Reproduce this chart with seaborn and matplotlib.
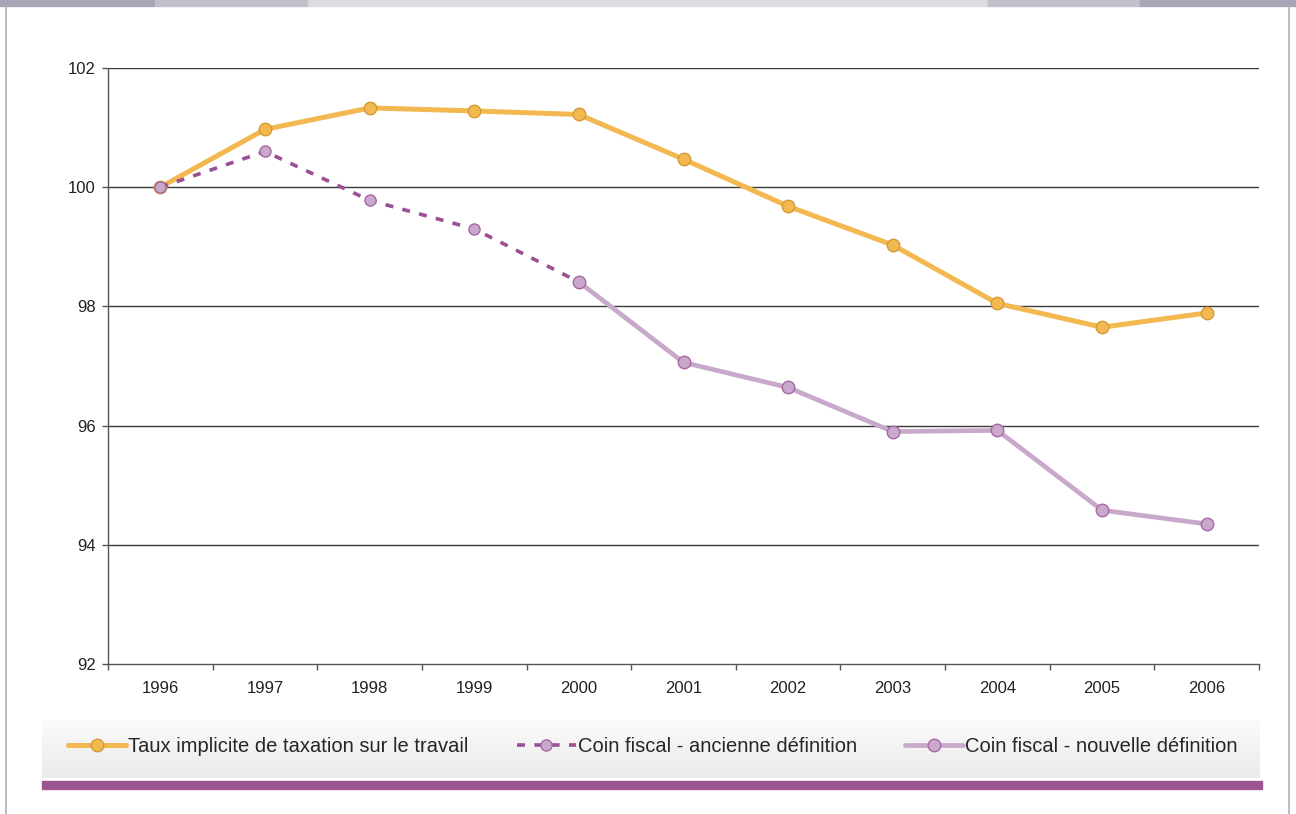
import matplotlib
matplotlib.use("Agg")
import matplotlib.pyplot as plt
import numpy as np
import seaborn as sns
from matplotlib.patches import Rectangle
from matplotlib.colors import LinearSegmentedColormap

years = [1996, 1997, 1998, 1999, 2000, 2001, 2002, 2003, 2004, 2005, 2006]
taux = [100.0, 100.97, 101.33, 101.28, 101.22, 100.47, 99.68, 99.03, 98.05, 97.65, 97.89]
anc_years = [1996, 1997, 1998, 1999, 2000]
ancienne = [100.0, 100.60, 99.78, 99.30, 98.41]
nouv_years = [2000, 2001, 2002, 2003, 2004, 2005, 2006]
nouvelle = [98.41, 97.06, 96.64, 95.90, 95.92, 94.58, 94.35]
yticks = [92, 94, 96, 98, 100, 102]
labels = ["Taux implicite de taxation sur le travail",
          "Coin fiscal - ancienne définition",
          "Coin fiscal - nouvelle définition"]

sns.set_theme(style="white")
plt.rcParams['font.family'] = ['Liberation Sans', 'DejaVu Sans']

W, H = 1296, 814
fig = plt.figure(figsize=(W / 100, H / 100), dpi=100)
fig.patch.set_facecolor("white")

def fx(px):
    return px / W

def fy(py):
    return 1 - py / H

# header band
for x0, x1, c in [(0, 155, "#A9A5B6"), (155, 308, "#C3C0CB"), (308, 988, "#DDDBE1"),
                  (988, 1140, "#C3C0CB"), (1140, 1296, "#A9A5B6")]:
    fig.patches.append(Rectangle((fx(x0), fy(6)), fx(x1 - x0), 6 / H,
                                 transform=fig.transFigure, color=c, zorder=0))
# side borders
for x in (6, 1289):
    fig.add_artist(plt.Line2D([fx(x), fx(x)], [0, fy(6)], transform=fig.transFigure,
                              color="#B0B0B8", lw=1.2))

# legend background gradient
bg = fig.add_axes([fx(42), fy(778), fx(1260 - 42), (778 - 720) / H])
grad = np.linspace(0, 1, 100).reshape(-1, 1)
cmap = LinearSegmentedColormap.from_list("g", ["#FBFBFB", "#EAEAEA"])
bg.imshow(grad, aspect="auto", cmap=cmap, extent=[0, 1, 0, 1], origin="upper")
bg.set_axis_off()

# purple bar
fig.patches.append(Rectangle((fx(42), fy(789)), fx(1262 - 42), 8 / H,
                             transform=fig.transFigure, color="#9B5592", zorder=1))

ax = fig.add_axes([fx(108), fy(664), fx(1259 - 108), (664 - 68) / H])
ax.set_facecolor("none")

orange = "#F3B84F"
orange_e = "#D49A35"
purple = "#9B4F96"
lilac = "#C8A8CB"
lilac_e = "#A868A3"

sns.lineplot(x=years, y=taux, ax=ax, color=orange, lw=3.6, marker="o", markersize=9,
             markerfacecolor=orange, markeredgecolor=orange_e, markeredgewidth=1.0,
             label=labels[0], zorder=3)
sns.lineplot(x=anc_years, y=ancienne, ax=ax, color=purple, lw=2.6, linestyle=(0, (2.2, 2.6)),
             marker="o", markersize=8, markerfacecolor=lilac, markeredgecolor=lilac_e,
             markeredgewidth=1.0, label=labels[1], zorder=4)
sns.lineplot(x=nouv_years, y=nouvelle, ax=ax, color=lilac, lw=3.4, marker="o", markersize=9,
             markerfacecolor=lilac, markeredgecolor=lilac_e, markeredgewidth=1.0,
             label=labels[2], zorder=5)

ax.set_xlim(1995.5, 2006.5)
ax.set_ylim(92, 102)
ax.set_yticks(yticks)
ax.set_yticklabels([str(v) for v in yticks], fontsize=12, color="#222222")
ax.set_xticks([y - 0.5 for y in years] + [2006.5])
ax.set_xticklabels([])
ax.set_xticks(years, minor=True)
ax.set_xticklabels([str(y) for y in years], minor=True, fontsize=12, color="#222222")
ax.tick_params(axis="x", which="major", direction="out", length=4.5, width=1, color="#555555", bottom=True)
ax.tick_params(axis="x", which="minor", length=0, pad=12)
ax.tick_params(axis="y", direction="out", length=4, width=1, color="#555555", left=True, pad=5)
ax.set_xlabel("")
ax.set_ylabel("")
ax.grid(False)
for v in yticks[1:]:
    ax.axhline(v, color="#3A3A3A", lw=1.0, zorder=1)
for s in ("top", "right"):
    ax.spines[s].set_visible(False)
ax.spines["left"].set_color("#555555")
ax.spines["bottom"].set_color("#555555")
ax.spines["left"].set_linewidth(1)
ax.spines["bottom"].set_linewidth(1)

handles, labs = ax.get_legend_handles_labels()
ax.get_legend().remove()
fig.legend(handles, labs, loc="center", bbox_to_anchor=(fx(653), fy(747)), ncol=3,
           frameon=False, fontsize=14.5, handlelength=2.9, handletextpad=0.1,
           columnspacing=2.4, borderpad=0, borderaxespad=0)

fig.savefig("out.png", dpi=100, facecolor="white")
